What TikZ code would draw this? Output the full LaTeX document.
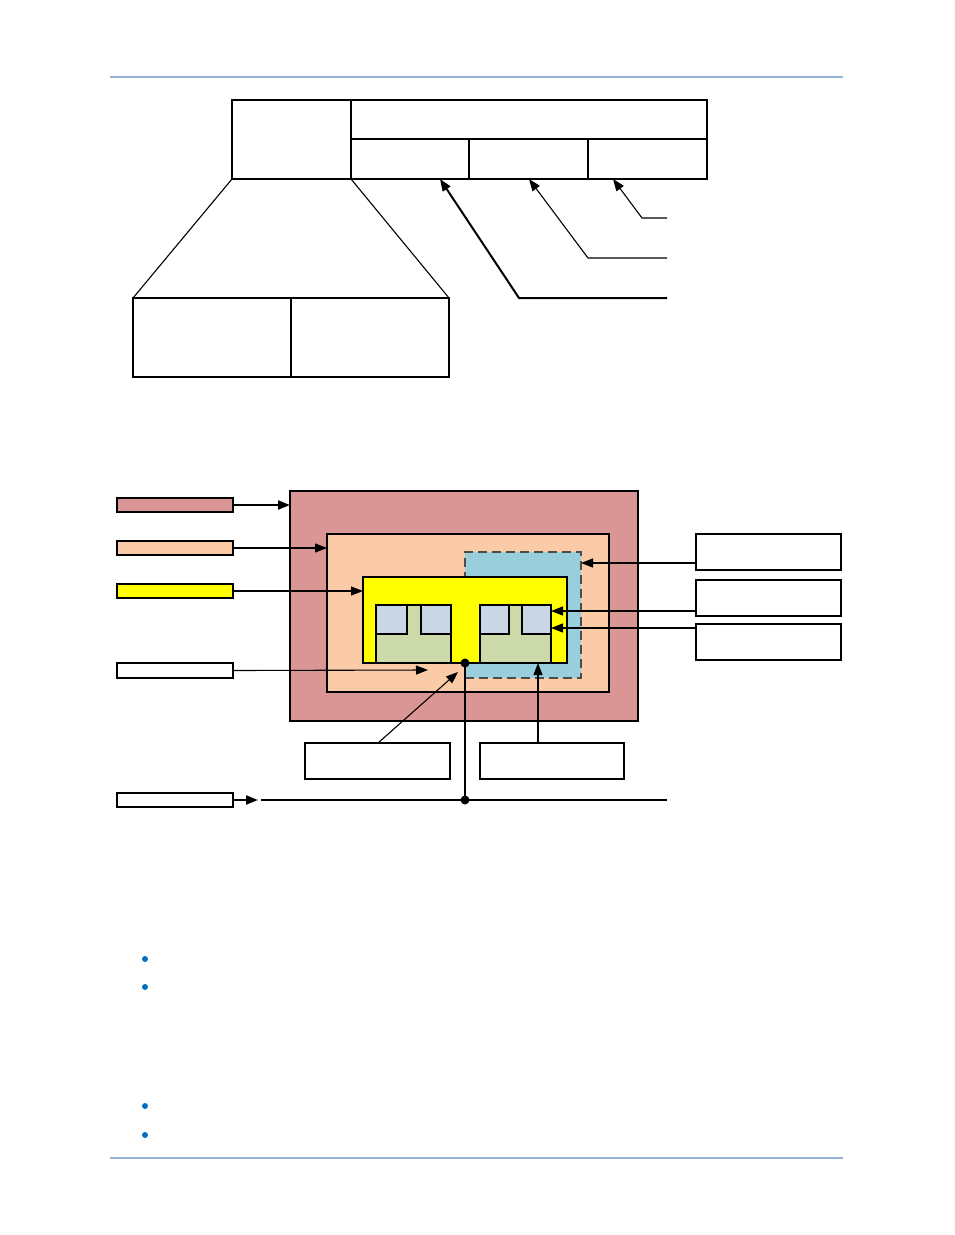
\documentclass[tikz,border=0pt]{standalone}
\usetikzlibrary{arrows.meta}
\definecolor{hdr}{HTML}{95B3D7}
\definecolor{rose}{HTML}{D99694}
\definecolor{peach}{HTML}{FACBA6}
\definecolor{aqua}{HTML}{99CFDD}
\definecolor{olive}{HTML}{CCDAAA}
\definecolor{sq}{HTML}{C9D6E6}
\definecolor{bul}{HTML}{0070C0}
\definecolor{yel}{RGB}{255,255,0}
\tikzset{
  thinln/.style={line width=1.1pt},
  thickln/.style={line width=2pt},
  rbox/.style={draw=black, thinln, inner sep=0pt, outer sep=0pt, anchor=north west},
  arr/.style={thinln, -{Triangle[length=12pt,width=9pt]}},
  tarr/.style={thickln, -{Triangle[length=12pt,width=9pt]}},
  dotc/.style={circle, fill=black, inner sep=0pt, minimum size=9pt},
  bullet/.style={circle, fill=bul, inner sep=0pt, minimum size=6pt}
}
\begin{document}
\begin{tikzpicture}[x=1pt,y=-1pt]
\useasboundingbox (0,0) rectangle (954,1235);
% header / footer
\draw[hdr, line width=1.6pt] (110,77) coordinate (h1) -- (843,77) coordinate (h2);
\draw[hdr, line width=1.6pt] (110,1158) coordinate (f1) -- (843,1158) coordinate (f2);

% ---------- top diagram ----------
\node[rbox, thickln, minimum width=119pt, minimum height=79pt] (L) at (232,100) {};
\node[rbox, thickln, minimum width=356pt, minimum height=79pt] (R) at (351,100) {};
\draw[thinln] (351,139) coordinate (rm1) -- (707,139) coordinate (rm2);
\draw[thinln] (469,139) coordinate (v1a) -- (469,179) coordinate (v1b);
\draw[thickln] (588,139) coordinate (v2a) -- (588,179) coordinate (v2b);
\node[rbox, thickln, minimum width=316pt, minimum height=79pt] (B) at (133,298) {};
\draw[thinln] (291,298) coordinate (bd1) -- (291,377) coordinate (bd2);
\draw[thinln] (L.south west) -- (B.north west);
\draw[thinln] (L.south east) -- (B.north east);
\coordinate (s1) at (667,218);
\coordinate (s2) at (667,258);
\coordinate (s3) at (667,298);
\draw[arr] (s1) -- (642,218) -- (613,179);
\draw[arr] (s2) -- (588,258) -- (529,179);
\draw[tarr] (s3) -- (519,298) -- (440,179);

% ---------- middle diagram ----------
\node[rbox, fill=rose, minimum width=348pt, minimum height=230pt] (rose) at (290,491) {};
\node[rbox, fill=peach, minimum width=282pt, minimum height=158pt] (peach) at (327,534) {};
\draw[thickln] (peach.north west) -- (peach.north east);
\node[rbox, fill=aqua, draw=black!70, line width=1.8pt, dash pattern=on 9pt off 5pt, minimum width=116pt, minimum height=126pt] (aqua) at (465,552) {};
\node[rbox, fill=yel, minimum width=204pt, minimum height=86pt] (yelbox) at (363,577) {};
\node[rbox, fill=olive, minimum width=75pt, minimum height=58pt] (gl) at (376,605) {};
\node[rbox, fill=olive, minimum width=71pt, minimum height=58pt] (gr) at (480,605) {};
\node[rbox, fill=sq, minimum width=31pt, minimum height=29pt] (q1) at (376,605) {};
\node[rbox, fill=sq, minimum width=30pt, minimum height=29pt] (q2) at (421,605) {};
\node[rbox, fill=sq, minimum width=29pt, minimum height=29pt] (q3) at (480,605) {};
\node[rbox, fill=sq, minimum width=29pt, minimum height=29pt] (q4) at (522,605) {};
\foreach \q in {q1,q2,q3,q4} \draw[thickln] (\q.south west) -- (\q.south east);

% bus
\node[dotc] (d1) at (465,663) {};
\node[dotc] (d2) at (465,800) {};
\draw[thinln] (d1.center) -- (d2.center);
\coordinate (busL) at (261,800);
\coordinate (busR) at (667,800);
\draw[thickln] (busL) -- (busR);

% left legend boxes
\node[rbox, thickln, fill=rose, minimum width=116pt, minimum height=14pt] (k1) at (117,498) {};
\node[rbox, thickln, fill=peach, minimum width=116pt, minimum height=14pt] (k2) at (117,541) {};
\node[rbox, thickln, fill=yel, minimum width=116pt, minimum height=14pt] (k3) at (117,584) {};
\node[rbox, fill=white, minimum width=116pt, minimum height=15pt] (k4) at (117,663) {};
\node[rbox, fill=white, minimum width=116pt, minimum height=14pt] (k5) at (117,793) {};
\draw[tarr] (k1.east) -- (k1.east -| rose.west);
\draw[arr] (k2.east) -- (k2.east -| peach.west);
\draw[arr] (k3.east) -- (k3.east -| yelbox.west);
\coordinate (k4t) at (428,670);
\draw[arr] (k4.east) -- (k4t);
\coordinate (k5t) at (258,800);
\draw[tarr] (k5.east) -- (k5t);

% right boxes
\node[rbox, fill=white, minimum width=145pt, minimum height=36pt] (r1) at (696,534) {};
\draw[thickln] (r1.north west) -- (r1.north east);
\node[rbox, fill=white, minimum width=145pt, minimum height=36pt] (r2) at (696,580) {};
\node[rbox, fill=white, minimum width=145pt, minimum height=36pt] (r3) at (696,624) {};
\draw[arr] (r1.west |- 0,563) coordinate (r1a) -- (r1a -| aqua.east);
\draw[arr] (r2.west |- 0,611) coordinate (r2a) -- (r2a -| q4.east);
\draw[arr] (r3.west |- 0,628) coordinate (r3a) -- (r3a -| q4.east);

% bottom boxes
\node[rbox, fill=white, minimum width=145pt, minimum height=36pt] (b1) at (305,743) {};
\node[rbox, fill=white, minimum width=144pt, minimum height=36pt] (b2) at (480,743) {};
\coordinate (b1t) at (458,672);
\draw[arr] (b1.north -| 378,0) -- (b1t);
\draw[arr] (b2.north -| 538,0) coordinate (b2a) -- (b2a |- gr.south);

% bullets
\node[bullet] (u1) at (145,959) {};
\node[bullet] (u2) at (145,987) {};
\node[bullet] (u3) at (145,1106) {};
\node[bullet] (u4) at (145,1135) {};
\end{tikzpicture}
\end{document}
